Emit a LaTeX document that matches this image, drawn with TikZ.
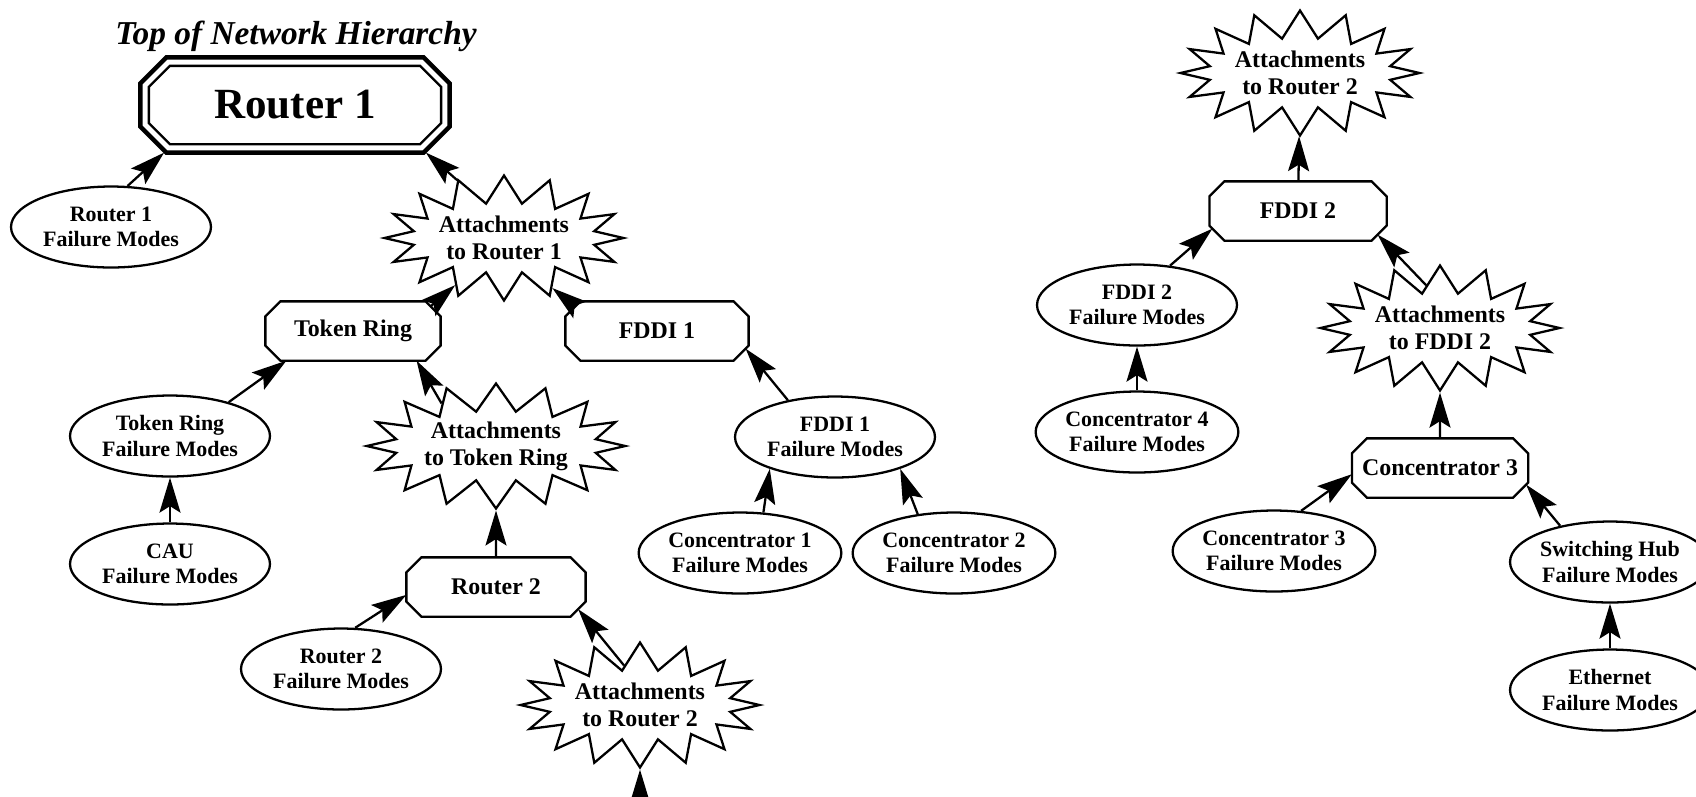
\documentclass[tikz,border=0pt]{standalone}
\usepackage{fontspec}
\setmainfont{Liberation Serif}
\usetikzlibrary{shapes.geometric,shapes.symbols,arrows.meta}
\begin{document}
\begin{tikzpicture}
[x=.02cm, y=-.02cm, line width=1.3pt,
 fm/.style={draw, ellipse, minimum width=4cm, minimum height=1.62cm, inner sep=0pt,
   align=center, font=\fontsize{12.5}{14.5}\selectfont\bfseries},
 box/.style={rectangle, minimum height=1.14cm, inner sep=0pt,
   font=\fontsize{13.6}{15}\selectfont\bfseries},
 att/.style={draw, starburst, starburst points=16, starburst point height=.55cm,
   random starburst=0, minimum width=4.6cm, minimum height=2.5cm, inner sep=0pt,
   align=center, font=\fontsize{13.6}{15.5}\selectfont\bfseries},
 feeds/.style={-{Stealth[length=.7cm, width=.42cm, inset=.13cm]}}]
\useasboundingbox (0,0) rectangle (1696,796);

\node[font=\fontsize{19}{22}\selectfont\bfseries\itshape] (title) at (296,36) {Top of Network Hierarchy};
\node[box, minimum width=6.14cm, minimum height=1.86cm,
  font=\fontsize{24.5}{28}\selectfont\bfseries] (router1) at (295,105) {Router 1};

\node[fm] (r1fail) at (111,227) {Router 1\\Failure Modes};
\node[att] (attr1) at (504,238) {Attachments\\to Router 1};
\node[box, minimum width=3.46cm] (tring) at (353,331) {Token Ring};
\node[box, minimum width=3.62cm] (fddi1) at (657,331) {FDDI 1};
\node[fm] (trfail) at (170,436) {Token Ring\\Failure Modes};
\node[fm] (caufail) at (170,564) {CAU\\Failure Modes};
\node[att] (atttr) at (496,446) {Attachments\\to Token Ring};
\node[box, minimum width=3.54cm] (router2) at (496,587) {Router 2};
\node[fm] (r2fail) at (341,669) {Router 2\\Failure Modes};
\node[att] (attr2) at (640,705) {Attachments\\to Router 2};
\coordinate (feed) at (640,800);
\node[fm] (fddi1fail) at (835,437) {FDDI 1\\Failure Modes};
\node[fm] (con1fail) at (740,553) {Concentrator 1\\Failure Modes};
\node[fm] (con2fail) at (954,553) {Concentrator 2\\Failure Modes};

\node[att] (attr2top) at (1300,73) {Attachments\\to Router 2};
\node[box, minimum width=3.5cm] (fddi2) at (1298,211) {FDDI 2};
\node[fm] (fddi2fail) at (1137,305) {FDDI 2\\Failure Modes};
\node[fm] (con4fail) at (1137,432) {Concentrator 4\\Failure Modes};
\node[att] (attfddi2) at (1440,328) {Attachments\\to FDDI 2};
\node[box, minimum width=3.48cm] (con3) at (1440,468) {Concentrator 3};
\node[fm] (con3fail) at (1274,551) {Concentrator 3\\Failure Modes};
\node[fm] (hubfail) at (1610,562) {Switching Hub\\Failure Modes};
\node[fm] (ethfail) at (1610,690) {Ethernet\\Failure Modes};

% octagon outlines round the box nodes
\foreach \b in {tring,fddi1,router2,fddi2,con3}
  \draw ([xshift=.3cm]\b.north west) -- ([xshift=-.3cm]\b.north east)
    -- ([yshift=-.3cm]\b.north east) -- ([yshift=.3cm]\b.south east)
    -- ([xshift=-.3cm]\b.south east) -- ([xshift=.3cm]\b.south west)
    -- ([yshift=.3cm]\b.south west) -- ([yshift=-.3cm]\b.north west) -- cycle;
\draw[line width=2.6pt] ([xshift=.52cm]router1.north west) -- ([xshift=-.52cm]router1.north east)
  -- ([yshift=-.52cm]router1.north east) -- ([yshift=.52cm]router1.south east)
  -- ([xshift=-.52cm]router1.south east) -- ([xshift=.52cm]router1.south west)
  -- ([yshift=.52cm]router1.south west) -- ([yshift=-.52cm]router1.north west) -- cycle;
\draw ([shift={(.59cm,-.17cm)}]router1.north west) -- ([shift={(-.59cm,-.17cm)}]router1.north east)
  -- ([shift={(-.17cm,-.59cm)}]router1.north east) -- ([shift={(-.17cm,.59cm)}]router1.south east)
  -- ([shift={(-.59cm,.17cm)}]router1.south east) -- ([shift={(.59cm,.17cm)}]router1.south west)
  -- ([shift={(.17cm,.59cm)}]router1.south west) -- ([shift={(.17cm,-.59cm)}]router1.north west) -- cycle;

\draw[feeds] (r1fail.68) -- (router1.200);
\draw[feeds] (attr1.129) -- (router1.-20);
\draw[feeds] ([shift={(-.2cm,-.1cm)}]tring.north east) -- (attr1.224);
\draw[feeds] ([shift={(.2cm,-.1cm)}]fddi1.north west) -- (attr1.-46);
\draw[feeds] (trfail.30) -- (tring.204);
\draw[feeds] (caufail) -- (trfail);
\draw[feeds] (atttr.142) -- (tring.-25);
\draw[feeds] (router2) -- (atttr);
\draw[feeds] (r2fail.71) -- (router2.185);
\draw[feeds] (attr2.112) -- ([shift={(-.15cm,.15cm)}]router2.south east);
\draw[feeds] (feed) -- (attr2);
\draw[feeds] (fddi1fail.142) -- ([shift={(-.06cm,.24cm)}]fddi1.south east);
\draw[feeds] (con1fail.60) -- (fddi1fail.206);
\draw[feeds] (con2fail.133) -- (fddi1fail.-26);
\draw[feeds] (fddi2) -- (attr2top);
\draw[feeds] (fddi2fail.50) -- ([shift={(.06cm,.24cm)}]fddi2.south west);
\draw[feeds] (con4fail) -- (fddi2fail);
\draw[feeds] (attfddi2.108) -- ([shift={(-.18cm,.12cm)}]fddi2.south east);
\draw[feeds] (con3) -- (attfddi2);
\draw[feeds] (con3fail.56) -- (con3.184);
\draw[feeds] (hubfail.144) -- ([shift={(-.04cm,.26cm)}]con3.south east);
\draw[feeds] (ethfail) -- (hubfail);
\end{tikzpicture}
\end{document}
